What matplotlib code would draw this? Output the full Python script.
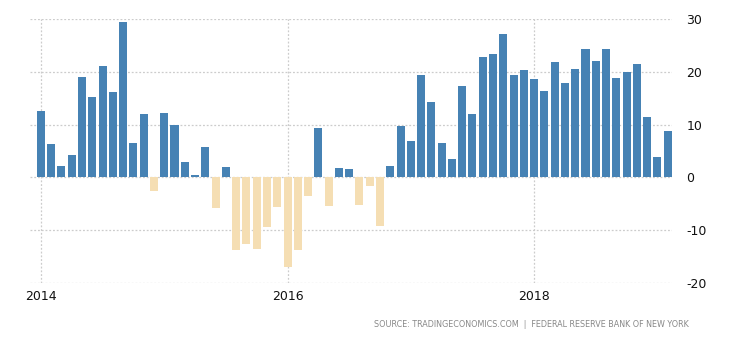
import numpy as np
import matplotlib
matplotlib.use("Agg")
import matplotlib.pyplot as plt

# monthly values, Jan 2014 .. Feb 2019
values = [
    12.5, 6.3, 2.1, 4.2, 19.0, 15.2, 21.1, 16.1, 29.4, 6.5, 12.0, -2.5,   # 2014
    12.2, 9.9, 3.0, 0.4, 5.7, -5.9, 1.9, -13.7, -12.7, -13.5, -9.5, -5.7,  # 2015
    -16.9, -13.7, -3.6, 9.3, -5.5, 1.7, 1.5, -5.3, -1.7, -9.3, 2.1, 9.7,   # 2016
    6.8, 19.4, 14.2, 6.6, 3.4, 17.3, 12.0, 22.8, 23.4, 27.2, 19.4, 20.3,   # 2017
    18.6, 16.3, 21.8, 17.8, 20.5, 24.3, 22.0, 24.3, 18.8, 19.9, 21.5, 11.4,  # 2018
    3.8, 8.7,  # 2019
]
year_ticks = [0, 24, 48]
year_labels = ["2014", "2016", "2018"]
y_ticks = [-20, -10, 0, 10, 20, 30]

plt.rcParams["axes.unicode_minus"] = False

x = np.arange(len(values))
vals = np.array(values)
colors = np.where(vals >= 0, "#4682B4", "#F5DEB3")

fig = plt.figure(figsize=(7.3, 3.4), dpi=100)
ax = fig.add_axes([0.041, 0.168, 0.880, 0.776])

ax.bar(x, vals, width=0.78, color=colors, zorder=2)

ax.set_xlim(-1.07, 61.45)
ax.set_ylim(-20, 30)
ax.set_xticks(year_ticks)
ax.set_xticklabels(year_labels)
ax.set_yticks(y_ticks)
ax.yaxis.tick_right()
ax.tick_params(axis="both", length=0, labelsize=9, colors="#111111")
ax.tick_params(axis="y", pad=10)
ax.tick_params(axis="x", pad=5)
for lbl in ax.get_yticklabels():
    lbl.set_horizontalalignment("left")
ax.grid(True, linestyle=(0, (1.5, 1.5)), color="#cccccc", linewidth=0.9, zorder=0)
for s in ax.spines.values():
    s.set_visible(False)

fig.text(0.943, 0.045, "SOURCE: TRADINGECONOMICS.COM  |  FEDERAL RESERVE BANK OF NEW YORK",
         ha="right", va="center", fontsize=5.8, color="#888888")

fig.savefig("out.png", dpi=100)
